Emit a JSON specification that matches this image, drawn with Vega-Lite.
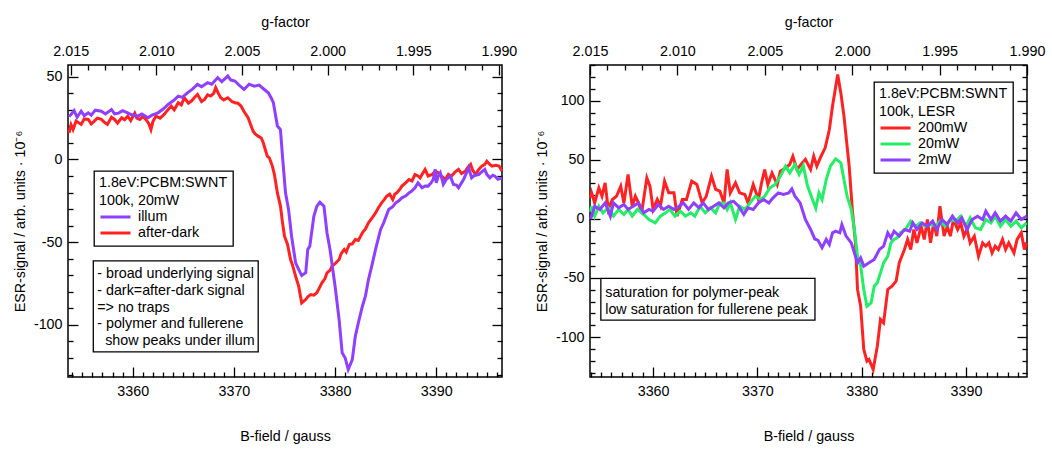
{
  "$schema": "https://vega.github.io/schema/vega-lite/v6.json",
  "padding": {"left": 12, "top": 14, "right": 0, "bottom": 0},
  "spacing": 16,
  "resolve": {"scale": {"color": "independent"}, "legend": {"color": "independent"}},
  "config": {
    "font": "Liberation Sans",
    "view": {"stroke": "black", "strokeWidth": 1.5},
    "axis": {"grid": false, "domain": false, "tickColor": "black", "tickWidth": 1.3, "labelColor": "black", "titleColor": "black", "labelFontSize": 14.3, "titleFontSize": 14.3, "titleFontWeight": "normal", "labelFont": "Liberation Sans", "titleFont": "Liberation Sans", "labelFlush": false, "labelOverlap": false, "labelBound": false},
    "legend": {"titleFontSize": 14.3, "titleFontWeight": "normal", "titleFont": "Liberation Sans", "labelFont": "Liberation Sans", "titleLineHeight": 18, "titlePadding": 1, "titleLimit": 400, "labelFontSize": 14.3, "symbolType": "stroke", "symbolSize": 900, "symbolStrokeWidth": 3, "clipHeight": 15.5, "rowPadding": 0, "labelOffset": 6, "padding": 5, "strokeColor": "black", "fillColor": "white", "strokeWidth": 1.3, "titleColor": "black", "labelColor": "black", "symbolOffset": 0, "offset": 0}
  },
  "datasets": {
    "L": [
      {"B":3353.7,"v":16,"s":"after-dark"},{"B":3353.9,"v":21,"s":"after-dark"},{"B":3354.1,"v":18.1,"s":"after-dark"},{"B":3354.4,"v":23.2,"s":"after-dark"},{"B":3354.9,"v":21.2,"s":"after-dark"},{"B":3355.2,"v":24.5,"s":"after-dark"},{"B":3355.6,"v":24.2,"s":"after-dark"},{"B":3355.9,"v":21.5,"s":"after-dark"},{"B":3356.2,"v":23.2,"s":"after-dark"},{"B":3356.5,"v":25,"s":"after-dark"},{"B":3356.9,"v":24.2,"s":"after-dark"},{"B":3357.2,"v":22.5,"s":"after-dark"},{"B":3357.5,"v":21.2,"s":"after-dark"},{"B":3357.9,"v":25.5,"s":"after-dark"},{"B":3358.2,"v":24.2,"s":"after-dark"},{"B":3358.5,"v":22,"s":"after-dark"},{"B":3358.9,"v":25.2,"s":"after-dark"},{"B":3359.2,"v":24,"s":"after-dark"},{"B":3359.5,"v":26.2,"s":"after-dark"},{"B":3359.8,"v":23.5,"s":"after-dark"},{"B":3360.2,"v":28,"s":"after-dark"},{"B":3360.4,"v":25,"s":"after-dark"},{"B":3360.7,"v":24.2,"s":"after-dark"},{"B":3361.0,"v":26,"s":"after-dark"},{"B":3361.3,"v":24.2,"s":"after-dark"},{"B":3361.6,"v":21.5,"s":"after-dark"},{"B":3361.8,"v":18.1,"s":"after-dark"},{"B":3362.0,"v":23,"s":"after-dark"},{"B":3362.3,"v":26.2,"s":"after-dark"},{"B":3362.7,"v":25,"s":"after-dark"},{"B":3363.1,"v":27.2,"s":"after-dark"},{"B":3363.4,"v":29.5,"s":"after-dark"},{"B":3363.8,"v":32.3,"s":"after-dark"},{"B":3364.1,"v":30,"s":"after-dark"},{"B":3364.5,"v":34.3,"s":"after-dark"},{"B":3364.8,"v":33,"s":"after-dark"},{"B":3365.1,"v":37.3,"s":"after-dark"},{"B":3365.5,"v":34,"s":"after-dark"},{"B":3365.8,"v":35.3,"s":"after-dark"},{"B":3366.1,"v":37.5,"s":"after-dark"},{"B":3366.4,"v":39.3,"s":"after-dark"},{"B":3366.8,"v":35,"s":"after-dark"},{"B":3367.1,"v":36.3,"s":"after-dark"},{"B":3367.4,"v":39,"s":"after-dark"},{"B":3367.7,"v":38.3,"s":"after-dark"},{"B":3368.0,"v":40,"s":"after-dark"},{"B":3368.2,"v":43.4,"s":"after-dark"},{"B":3368.5,"v":39.5,"s":"after-dark"},{"B":3368.7,"v":37.3,"s":"after-dark"},{"B":3369.0,"v":36,"s":"after-dark"},{"B":3369.4,"v":37.3,"s":"after-dark"},{"B":3369.8,"v":35,"s":"after-dark"},{"B":3370.1,"v":34.3,"s":"after-dark"},{"B":3370.4,"v":34,"s":"after-dark"},{"B":3370.7,"v":32.3,"s":"after-dark"},{"B":3371.0,"v":29,"s":"after-dark"},{"B":3371.4,"v":25.2,"s":"after-dark"},{"B":3371.9,"v":17.1,"s":"after-dark"},{"B":3372.1,"v":15.5,"s":"after-dark"},{"B":3372.4,"v":14.1,"s":"after-dark"},{"B":3372.7,"v":13,"s":"after-dark"},{"B":3372.9,"v":10.1,"s":"after-dark"},{"B":3373.1,"v":6,"s":"after-dark"},{"B":3373.3,"v":2,"s":"after-dark"},{"B":3373.5,"v":1,"s":"after-dark"},{"B":3373.8,"v":-4,"s":"after-dark"},{"B":3374.0,"v":-9,"s":"after-dark"},{"B":3374.3,"v":-20.2,"s":"after-dark"},{"B":3374.6,"v":-28.2,"s":"after-dark"},{"B":3374.8,"v":-38,"s":"after-dark"},{"B":3375.0,"v":-46.4,"s":"after-dark"},{"B":3375.3,"v":-51.4,"s":"after-dark"},{"B":3375.6,"v":-60.5,"s":"after-dark"},{"B":3375.8,"v":-64,"s":"after-dark"},{"B":3376.1,"v":-70.6,"s":"after-dark"},{"B":3376.4,"v":-76.6,"s":"after-dark"},{"B":3376.7,"v":-86.7,"s":"after-dark"},{"B":3377.1,"v":-84.7,"s":"after-dark"},{"B":3377.3,"v":-83,"s":"after-dark"},{"B":3377.6,"v":-81.7,"s":"after-dark"},{"B":3377.9,"v":-82,"s":"after-dark"},{"B":3378.2,"v":-80.6,"s":"after-dark"},{"B":3378.5,"v":-77,"s":"after-dark"},{"B":3378.7,"v":-74.6,"s":"after-dark"},{"B":3379.0,"v":-72,"s":"after-dark"},{"B":3379.2,"v":-68.5,"s":"after-dark"},{"B":3379.5,"v":-67,"s":"after-dark"},{"B":3379.7,"v":-64.5,"s":"after-dark"},{"B":3380.0,"v":-63,"s":"after-dark"},{"B":3380.4,"v":-60.5,"s":"after-dark"},{"B":3380.6,"v":-57,"s":"after-dark"},{"B":3380.9,"v":-54.4,"s":"after-dark"},{"B":3381.1,"v":-56,"s":"after-dark"},{"B":3381.4,"v":-51.4,"s":"after-dark"},{"B":3381.7,"v":-51,"s":"after-dark"},{"B":3382.0,"v":-48.4,"s":"after-dark"},{"B":3382.3,"v":-49,"s":"after-dark"},{"B":3382.7,"v":-44.3,"s":"after-dark"},{"B":3383.0,"v":-42,"s":"after-dark"},{"B":3383.3,"v":-38.3,"s":"after-dark"},{"B":3383.7,"v":-35,"s":"after-dark"},{"B":3384.0,"v":-32.3,"s":"after-dark"},{"B":3384.3,"v":-29,"s":"after-dark"},{"B":3384.6,"v":-26.2,"s":"after-dark"},{"B":3384.9,"v":-24,"s":"after-dark"},{"B":3385.1,"v":-22.2,"s":"after-dark"},{"B":3385.4,"v":-21,"s":"after-dark"},{"B":3385.7,"v":-24.2,"s":"after-dark"},{"B":3385.9,"v":-21,"s":"after-dark"},{"B":3386.1,"v":-20.2,"s":"after-dark"},{"B":3386.4,"v":-18,"s":"after-dark"},{"B":3386.6,"v":-16.1,"s":"after-dark"},{"B":3387.0,"v":-14,"s":"after-dark"},{"B":3387.3,"v":-12.1,"s":"after-dark"},{"B":3387.6,"v":-13,"s":"after-dark"},{"B":3387.9,"v":-9.1,"s":"after-dark"},{"B":3388.2,"v":-10,"s":"after-dark"},{"B":3388.4,"v":-11.1,"s":"after-dark"},{"B":3388.7,"v":-8,"s":"after-dark"},{"B":3388.9,"v":-6,"s":"after-dark"},{"B":3389.2,"v":-10,"s":"after-dark"},{"B":3389.6,"v":-9.1,"s":"after-dark"},{"B":3389.9,"v":-7,"s":"after-dark"},{"B":3390.2,"v":-8,"s":"after-dark"},{"B":3390.5,"v":-10,"s":"after-dark"},{"B":3390.9,"v":-12.1,"s":"after-dark"},{"B":3391.2,"v":-9,"s":"after-dark"},{"B":3391.5,"v":-10.1,"s":"after-dark"},{"B":3391.8,"v":-8,"s":"after-dark"},{"B":3392.2,"v":-6,"s":"after-dark"},{"B":3392.5,"v":-8.5,"s":"after-dark"},{"B":3392.9,"v":-7,"s":"after-dark"},{"B":3393.1,"v":-5,"s":"after-dark"},{"B":3393.4,"v":-3,"s":"after-dark"},{"B":3393.6,"v":-6.5,"s":"after-dark"},{"B":3393.9,"v":-9.1,"s":"after-dark"},{"B":3394.2,"v":-6,"s":"after-dark"},{"B":3394.5,"v":-4,"s":"after-dark"},{"B":3394.8,"v":-3,"s":"after-dark"},{"B":3395.0,"v":-1,"s":"after-dark"},{"B":3395.3,"v":-3,"s":"after-dark"},{"B":3395.5,"v":-4,"s":"after-dark"},{"B":3395.9,"v":-3.5,"s":"after-dark"},{"B":3396.2,"v":-4,"s":"after-dark"},{"B":3396.5,"v":-7,"s":"after-dark"},
      {"B":3353.7,"v":26,"s":"illum"},{"B":3353.9,"v":27.2,"s":"illum"},{"B":3354.2,"v":29.5,"s":"illum"},{"B":3354.5,"v":25.5,"s":"illum"},{"B":3354.9,"v":29.2,"s":"illum"},{"B":3355.2,"v":26.5,"s":"illum"},{"B":3355.6,"v":28.2,"s":"illum"},{"B":3355.9,"v":26.8,"s":"illum"},{"B":3356.3,"v":29.8,"s":"illum"},{"B":3356.9,"v":29.2,"s":"illum"},{"B":3357.3,"v":27.5,"s":"illum"},{"B":3357.9,"v":30.2,"s":"illum"},{"B":3358.2,"v":27.6,"s":"illum"},{"B":3358.6,"v":28,"s":"illum"},{"B":3359.0,"v":29.5,"s":"illum"},{"B":3359.5,"v":28.2,"s":"illum"},{"B":3359.9,"v":27,"s":"illum"},{"B":3360.5,"v":26.2,"s":"illum"},{"B":3360.9,"v":27.5,"s":"illum"},{"B":3361.5,"v":25.2,"s":"illum"},{"B":3361.9,"v":26.8,"s":"illum"},{"B":3362.5,"v":28.2,"s":"illum"},{"B":3363.0,"v":30.5,"s":"illum"},{"B":3363.5,"v":33.3,"s":"illum"},{"B":3364.0,"v":35.5,"s":"illum"},{"B":3364.5,"v":38.3,"s":"illum"},{"B":3364.9,"v":37.5,"s":"illum"},{"B":3365.4,"v":40.3,"s":"illum"},{"B":3365.9,"v":42.5,"s":"illum"},{"B":3366.4,"v":45.4,"s":"illum"},{"B":3366.8,"v":44,"s":"illum"},{"B":3367.4,"v":46.4,"s":"illum"},{"B":3367.8,"v":45.5,"s":"illum"},{"B":3368.4,"v":49.4,"s":"illum"},{"B":3368.8,"v":47,"s":"illum"},{"B":3369.4,"v":50.4,"s":"illum"},{"B":3369.7,"v":48,"s":"illum"},{"B":3370.1,"v":47.4,"s":"illum"},{"B":3370.5,"v":45,"s":"illum"},{"B":3371.0,"v":42.3,"s":"illum"},{"B":3371.5,"v":45.5,"s":"illum"},{"B":3372.0,"v":44.3,"s":"illum"},{"B":3372.5,"v":45,"s":"illum"},{"B":3373.0,"v":42.3,"s":"illum"},{"B":3373.4,"v":40.3,"s":"illum"},{"B":3373.7,"v":37,"s":"illum"},{"B":3373.9,"v":34.3,"s":"illum"},{"B":3374.3,"v":20.2,"s":"illum"},{"B":3374.6,"v":18.1,"s":"illum"},{"B":3374.8,"v":2,"s":"illum"},{"B":3375.1,"v":-20.2,"s":"illum"},{"B":3375.4,"v":-30.2,"s":"illum"},{"B":3375.7,"v":-46.4,"s":"illum"},{"B":3376.1,"v":-62.5,"s":"illum"},{"B":3376.4,"v":-66.5,"s":"illum"},{"B":3376.7,"v":-70.2,"s":"illum"},{"B":3377.1,"v":-68.5,"s":"illum"},{"B":3377.3,"v":-54.4,"s":"illum"},{"B":3377.5,"v":-52.4,"s":"illum"},{"B":3377.9,"v":-34.3,"s":"illum"},{"B":3378.2,"v":-28.2,"s":"illum"},{"B":3378.5,"v":-25.8,"s":"illum"},{"B":3378.9,"v":-28.2,"s":"illum"},{"B":3379.2,"v":-44.3,"s":"illum"},{"B":3379.5,"v":-54.4,"s":"illum"},{"B":3380.0,"v":-76.6,"s":"illum"},{"B":3380.4,"v":-96.8,"s":"illum"},{"B":3380.7,"v":-116.9,"s":"illum"},{"B":3381.0,"v":-120,"s":"illum"},{"B":3381.3,"v":-127,"s":"illum"},{"B":3381.7,"v":-121,"s":"illum"},{"B":3382.0,"v":-106.9,"s":"illum"},{"B":3382.3,"v":-98.8,"s":"illum"},{"B":3382.7,"v":-88.7,"s":"illum"},{"B":3383.0,"v":-82.7,"s":"illum"},{"B":3383.3,"v":-72.6,"s":"illum"},{"B":3383.7,"v":-62.5,"s":"illum"},{"B":3384.0,"v":-54.4,"s":"illum"},{"B":3384.5,"v":-42.3,"s":"illum"},{"B":3384.8,"v":-38.3,"s":"illum"},{"B":3385.3,"v":-30.2,"s":"illum"},{"B":3385.7,"v":-28.5,"s":"illum"},{"B":3386.0,"v":-26.2,"s":"illum"},{"B":3386.3,"v":-25,"s":"illum"},{"B":3386.6,"v":-23.2,"s":"illum"},{"B":3387.0,"v":-22,"s":"illum"},{"B":3387.3,"v":-20.2,"s":"illum"},{"B":3387.6,"v":-19,"s":"illum"},{"B":3387.9,"v":-17.1,"s":"illum"},{"B":3388.2,"v":-14.1,"s":"illum"},{"B":3388.6,"v":-17.1,"s":"illum"},{"B":3388.9,"v":-16,"s":"illum"},{"B":3389.2,"v":-16.1,"s":"illum"},{"B":3389.5,"v":-14,"s":"illum"},{"B":3389.7,"v":-12.1,"s":"illum"},{"B":3389.9,"v":-6,"s":"illum"},{"B":3390.0,"v":-14.1,"s":"illum"},{"B":3390.2,"v":-10,"s":"illum"},{"B":3390.4,"v":-8,"s":"illum"},{"B":3390.7,"v":-15.1,"s":"illum"},{"B":3391.0,"v":-12,"s":"illum"},{"B":3391.4,"v":-10.1,"s":"illum"},{"B":3391.7,"v":-15.1,"s":"illum"},{"B":3392.0,"v":-15.5,"s":"illum"},{"B":3392.2,"v":-17.1,"s":"illum"},{"B":3392.7,"v":-12.1,"s":"illum"},{"B":3393.0,"v":-8,"s":"illum"},{"B":3393.2,"v":-5,"s":"illum"},{"B":3393.5,"v":-11.1,"s":"illum"},{"B":3393.8,"v":-9.5,"s":"illum"},{"B":3394.2,"v":-9.1,"s":"illum"},{"B":3394.5,"v":-7.5,"s":"illum"},{"B":3394.8,"v":-6,"s":"illum"},{"B":3395.0,"v":-9,"s":"illum"},{"B":3395.3,"v":-11.1,"s":"illum"},{"B":3395.6,"v":-9.5,"s":"illum"},{"B":3395.8,"v":-10.1,"s":"illum"},{"B":3396.1,"v":-12,"s":"illum"},{"B":3396.5,"v":-11.1,"s":"illum"}
    ],
    "R": [
      {"B":3354.0,"v":18,"s":"200mW"},{"B":3354.1,"v":22,"s":"200mW"},{"B":3354.4,"v":13.5,"s":"200mW"},{"B":3354.8,"v":26.2,"s":"200mW"},{"B":3355.1,"v":19.2,"s":"200mW"},{"B":3355.4,"v":30.5,"s":"200mW"},{"B":3355.7,"v":8,"s":"200mW"},{"B":3356.1,"v":16.4,"s":"200mW"},{"B":3356.5,"v":19.2,"s":"200mW"},{"B":3356.9,"v":27.7,"s":"200mW"},{"B":3357.2,"v":13.5,"s":"200mW"},{"B":3357.6,"v":37.6,"s":"200mW"},{"B":3358.0,"v":10.7,"s":"200mW"},{"B":3358.3,"v":19.2,"s":"200mW"},{"B":3358.6,"v":13.5,"s":"200mW"},{"B":3358.9,"v":5.1,"s":"200mW"},{"B":3359.4,"v":34.7,"s":"200mW"},{"B":3359.7,"v":27.7,"s":"200mW"},{"B":3360.0,"v":8,"s":"200mW"},{"B":3360.4,"v":16.4,"s":"200mW"},{"B":3360.7,"v":10.7,"s":"200mW"},{"B":3361.1,"v":31.9,"s":"200mW"},{"B":3361.5,"v":22,"s":"200mW"},{"B":3362.0,"v":22,"s":"200mW"},{"B":3362.3,"v":2.3,"s":"200mW"},{"B":3362.8,"v":16.4,"s":"200mW"},{"B":3363.2,"v":16.4,"s":"200mW"},{"B":3363.7,"v":31.9,"s":"200mW"},{"B":3364.2,"v":29.1,"s":"200mW"},{"B":3364.7,"v":13.5,"s":"200mW"},{"B":3365.1,"v":19.2,"s":"200mW"},{"B":3365.6,"v":36.1,"s":"200mW"},{"B":3366.0,"v":24.9,"s":"200mW"},{"B":3366.4,"v":23.4,"s":"200mW"},{"B":3366.8,"v":13.5,"s":"200mW"},{"B":3367.1,"v":41.8,"s":"200mW"},{"B":3367.4,"v":22,"s":"200mW"},{"B":3367.9,"v":30.5,"s":"200mW"},{"B":3368.3,"v":22,"s":"200mW"},{"B":3368.8,"v":20.6,"s":"200mW"},{"B":3369.1,"v":13.5,"s":"200mW"},{"B":3369.6,"v":29.1,"s":"200mW"},{"B":3370.1,"v":16.4,"s":"200mW"},{"B":3370.4,"v":30.5,"s":"200mW"},{"B":3370.7,"v":41.8,"s":"200mW"},{"B":3371.0,"v":29.1,"s":"200mW"},{"B":3371.4,"v":38.9,"s":"200mW"},{"B":3371.9,"v":29.1,"s":"200mW"},{"B":3372.2,"v":40.4,"s":"200mW"},{"B":3372.7,"v":43.1,"s":"200mW"},{"B":3373.1,"v":46,"s":"200mW"},{"B":3373.4,"v":53,"s":"200mW"},{"B":3373.8,"v":41.8,"s":"200mW"},{"B":3374.3,"v":47.4,"s":"200mW"},{"B":3374.6,"v":50.3,"s":"200mW"},{"B":3375.1,"v":41.8,"s":"200mW"},{"B":3375.4,"v":53,"s":"200mW"},{"B":3375.7,"v":44.6,"s":"200mW"},{"B":3376.1,"v":53,"s":"200mW"},{"B":3376.5,"v":60.1,"s":"200mW"},{"B":3376.9,"v":75.6,"s":"200mW"},{"B":3377.2,"v":95.3,"s":"200mW"},{"B":3377.7,"v":122.2,"s":"200mW"},{"B":3378.0,"v":106.6,"s":"200mW"},{"B":3378.3,"v":86.9,"s":"200mW"},{"B":3378.6,"v":61.5,"s":"200mW"},{"B":3378.8,"v":44.6,"s":"200mW"},{"B":3379.1,"v":8,"s":"200mW"},{"B":3379.4,"v":-20.3,"s":"200mW"},{"B":3379.6,"v":-59.7,"s":"200mW"},{"B":3379.9,"v":-73.9,"s":"200mW"},{"B":3380.2,"v":-110.5,"s":"200mW"},{"B":3380.5,"v":-120.4,"s":"200mW"},{"B":3380.7,"v":-119,"s":"200mW"},{"B":3381.1,"v":-127.4,"s":"200mW"},{"B":3381.5,"v":-107.7,"s":"200mW"},{"B":3381.8,"v":-85.1,"s":"200mW"},{"B":3382.1,"v":-88,"s":"200mW"},{"B":3382.5,"v":-59.7,"s":"200mW"},{"B":3382.9,"v":-56.9,"s":"200mW"},{"B":3383.3,"v":-52.7,"s":"200mW"},{"B":3383.6,"v":-37.2,"s":"200mW"},{"B":3384.1,"v":-25.9,"s":"200mW"},{"B":3384.4,"v":-17.4,"s":"200mW"},{"B":3384.7,"v":-25.9,"s":"200mW"},{"B":3385.0,"v":-9,"s":"200mW"},{"B":3385.3,"v":-20.3,"s":"200mW"},{"B":3385.7,"v":-6.2,"s":"200mW"},{"B":3386.0,"v":-17.4,"s":"200mW"},{"B":3386.3,"v":-0.5,"s":"200mW"},{"B":3386.6,"v":-20.3,"s":"200mW"},{"B":3386.9,"v":-3.4,"s":"200mW"},{"B":3387.2,"v":-14.6,"s":"200mW"},{"B":3387.5,"v":10.7,"s":"200mW"},{"B":3387.9,"v":-14.6,"s":"200mW"},{"B":3388.2,"v":-6.2,"s":"200mW"},{"B":3388.5,"v":-14.6,"s":"200mW"},{"B":3388.8,"v":-0.5,"s":"200mW"},{"B":3389.2,"v":-9,"s":"200mW"},{"B":3389.5,"v":-3.4,"s":"200mW"},{"B":3389.8,"v":-14.6,"s":"200mW"},{"B":3390.1,"v":-9,"s":"200mW"},{"B":3390.4,"v":-20.3,"s":"200mW"},{"B":3390.8,"v":-14.6,"s":"200mW"},{"B":3391.2,"v":-31.6,"s":"200mW"},{"B":3391.6,"v":-20.3,"s":"200mW"},{"B":3391.9,"v":-23.1,"s":"200mW"},{"B":3392.2,"v":-20.3,"s":"200mW"},{"B":3392.5,"v":-28.8,"s":"200mW"},{"B":3392.8,"v":-23.1,"s":"200mW"},{"B":3393.1,"v":-25.9,"s":"200mW"},{"B":3393.5,"v":-17.4,"s":"200mW"},{"B":3393.8,"v":-25.9,"s":"200mW"},{"B":3394.1,"v":-20.3,"s":"200mW"},{"B":3394.6,"v":-28.8,"s":"200mW"},{"B":3394.9,"v":-17.4,"s":"200mW"},{"B":3395.3,"v":-11.8,"s":"200mW"},{"B":3395.6,"v":-25.9,"s":"200mW"},{"B":3395.8,"v":-20,"s":"200mW"},
      {"B":3354.0,"v":6,"s":"20mW"},{"B":3354.1,"v":10.7,"s":"20mW"},{"B":3354.4,"v":2.3,"s":"20mW"},{"B":3354.8,"v":10.7,"s":"20mW"},{"B":3355.2,"v":5.1,"s":"20mW"},{"B":3355.7,"v":9.3,"s":"20mW"},{"B":3356.2,"v":2.3,"s":"20mW"},{"B":3356.7,"v":8,"s":"20mW"},{"B":3357.2,"v":3.7,"s":"20mW"},{"B":3357.6,"v":8,"s":"20mW"},{"B":3358.0,"v":2.3,"s":"20mW"},{"B":3358.5,"v":8,"s":"20mW"},{"B":3359.1,"v":3.7,"s":"20mW"},{"B":3359.6,"v":-0.5,"s":"20mW"},{"B":3360.2,"v":-3.4,"s":"20mW"},{"B":3360.7,"v":2.3,"s":"20mW"},{"B":3361.2,"v":5.1,"s":"20mW"},{"B":3361.6,"v":8,"s":"20mW"},{"B":3362.1,"v":2.3,"s":"20mW"},{"B":3362.6,"v":6.5,"s":"20mW"},{"B":3363.1,"v":2.3,"s":"20mW"},{"B":3363.6,"v":5.1,"s":"20mW"},{"B":3364.0,"v":2.3,"s":"20mW"},{"B":3364.5,"v":10.7,"s":"20mW"},{"B":3365.0,"v":5.1,"s":"20mW"},{"B":3365.5,"v":9.3,"s":"20mW"},{"B":3366.0,"v":5.1,"s":"20mW"},{"B":3366.4,"v":13.5,"s":"20mW"},{"B":3366.8,"v":13.5,"s":"20mW"},{"B":3367.1,"v":8,"s":"20mW"},{"B":3367.4,"v":13.5,"s":"20mW"},{"B":3367.9,"v":-0.5,"s":"20mW"},{"B":3368.3,"v":10.7,"s":"20mW"},{"B":3368.8,"v":8,"s":"20mW"},{"B":3369.3,"v":13.5,"s":"20mW"},{"B":3369.8,"v":19.2,"s":"20mW"},{"B":3370.3,"v":16.4,"s":"20mW"},{"B":3370.7,"v":19.2,"s":"20mW"},{"B":3371.2,"v":26.2,"s":"20mW"},{"B":3371.7,"v":29.1,"s":"20mW"},{"B":3372.2,"v":36.1,"s":"20mW"},{"B":3372.7,"v":44.6,"s":"20mW"},{"B":3373.1,"v":38.9,"s":"20mW"},{"B":3373.6,"v":46,"s":"20mW"},{"B":3374.0,"v":37.6,"s":"20mW"},{"B":3374.4,"v":45,"s":"20mW"},{"B":3374.8,"v":28,"s":"20mW"},{"B":3375.3,"v":16,"s":"20mW"},{"B":3375.6,"v":9,"s":"20mW"},{"B":3375.9,"v":22,"s":"20mW"},{"B":3376.2,"v":16.4,"s":"20mW"},{"B":3376.6,"v":33.3,"s":"20mW"},{"B":3377.0,"v":44.6,"s":"20mW"},{"B":3377.5,"v":50.8,"s":"20mW"},{"B":3378.0,"v":47.4,"s":"20mW"},{"B":3378.3,"v":33.3,"s":"20mW"},{"B":3378.6,"v":19.2,"s":"20mW"},{"B":3379.0,"v":8,"s":"20mW"},{"B":3379.3,"v":-9,"s":"20mW"},{"B":3379.6,"v":-31.6,"s":"20mW"},{"B":3379.9,"v":-40,"s":"20mW"},{"B":3380.2,"v":-59.7,"s":"20mW"},{"B":3380.5,"v":-73.9,"s":"20mW"},{"B":3380.9,"v":-71.1,"s":"20mW"},{"B":3381.2,"v":-56.9,"s":"20mW"},{"B":3381.5,"v":-54.1,"s":"20mW"},{"B":3381.8,"v":-45.7,"s":"20mW"},{"B":3382.1,"v":-37.2,"s":"20mW"},{"B":3382.5,"v":-31.6,"s":"20mW"},{"B":3382.8,"v":-20.3,"s":"20mW"},{"B":3383.1,"v":-17.4,"s":"20mW"},{"B":3383.4,"v":-16,"s":"20mW"},{"B":3383.7,"v":-11.8,"s":"20mW"},{"B":3384.2,"v":-9,"s":"20mW"},{"B":3384.7,"v":-1.9,"s":"20mW"},{"B":3385.2,"v":-6.2,"s":"20mW"},{"B":3385.6,"v":-3.4,"s":"20mW"},{"B":3386.1,"v":-6.2,"s":"20mW"},{"B":3386.6,"v":-4.8,"s":"20mW"},{"B":3387.1,"v":-6.2,"s":"20mW"},{"B":3387.5,"v":-1.9,"s":"20mW"},{"B":3388.0,"v":-6.2,"s":"20mW"},{"B":3388.5,"v":-0.5,"s":"20mW"},{"B":3389.0,"v":-1.9,"s":"20mW"},{"B":3389.5,"v":2.3,"s":"20mW"},{"B":3390.0,"v":-6.2,"s":"20mW"},{"B":3390.4,"v":0.9,"s":"20mW"},{"B":3390.9,"v":-7.6,"s":"20mW"},{"B":3391.4,"v":-9,"s":"20mW"},{"B":3391.9,"v":-0.5,"s":"20mW"},{"B":3392.4,"v":-3.4,"s":"20mW"},{"B":3392.8,"v":2.3,"s":"20mW"},{"B":3393.3,"v":-6.2,"s":"20mW"},{"B":3393.8,"v":-0.5,"s":"20mW"},{"B":3394.3,"v":-6.2,"s":"20mW"},{"B":3394.8,"v":-1.9,"s":"20mW"},{"B":3395.3,"v":-7.6,"s":"20mW"},{"B":3395.8,"v":-3.4,"s":"20mW"},
      {"B":3354.0,"v":0,"s":"2mW"},{"B":3354.1,"v":2.3,"s":"2mW"},{"B":3354.4,"v":10.7,"s":"2mW"},{"B":3354.9,"v":8,"s":"2mW"},{"B":3355.4,"v":13.5,"s":"2mW"},{"B":3355.9,"v":2.3,"s":"2mW"},{"B":3356.2,"v":13.5,"s":"2mW"},{"B":3356.7,"v":9.3,"s":"2mW"},{"B":3357.2,"v":12.1,"s":"2mW"},{"B":3357.6,"v":8,"s":"2mW"},{"B":3358.1,"v":10.7,"s":"2mW"},{"B":3358.6,"v":13.5,"s":"2mW"},{"B":3359.1,"v":5.1,"s":"2mW"},{"B":3359.6,"v":8,"s":"2mW"},{"B":3360.0,"v":6.5,"s":"2mW"},{"B":3360.5,"v":12.1,"s":"2mW"},{"B":3361.0,"v":8,"s":"2mW"},{"B":3361.5,"v":10.7,"s":"2mW"},{"B":3362.0,"v":8,"s":"2mW"},{"B":3362.5,"v":10.7,"s":"2mW"},{"B":3362.9,"v":13.5,"s":"2mW"},{"B":3363.4,"v":8,"s":"2mW"},{"B":3363.9,"v":13.5,"s":"2mW"},{"B":3364.4,"v":9.3,"s":"2mW"},{"B":3364.8,"v":13.5,"s":"2mW"},{"B":3365.3,"v":8,"s":"2mW"},{"B":3365.8,"v":10.7,"s":"2mW"},{"B":3366.3,"v":13.5,"s":"2mW"},{"B":3366.8,"v":9.3,"s":"2mW"},{"B":3367.2,"v":13.5,"s":"2mW"},{"B":3367.7,"v":15,"s":"2mW"},{"B":3368.2,"v":10.7,"s":"2mW"},{"B":3368.7,"v":3.7,"s":"2mW"},{"B":3369.1,"v":9.3,"s":"2mW"},{"B":3369.6,"v":8,"s":"2mW"},{"B":3370.1,"v":13.5,"s":"2mW"},{"B":3370.6,"v":16.4,"s":"2mW"},{"B":3371.1,"v":13.5,"s":"2mW"},{"B":3371.5,"v":17.8,"s":"2mW"},{"B":3372.0,"v":22,"s":"2mW"},{"B":3372.5,"v":20.6,"s":"2mW"},{"B":3373.0,"v":22,"s":"2mW"},{"B":3373.3,"v":25.4,"s":"2mW"},{"B":3373.6,"v":19.2,"s":"2mW"},{"B":3374.1,"v":13.5,"s":"2mW"},{"B":3374.3,"v":8,"s":"2mW"},{"B":3374.6,"v":-0.5,"s":"2mW"},{"B":3375.1,"v":-9,"s":"2mW"},{"B":3375.5,"v":-17,"s":"2mW"},{"B":3375.8,"v":-18,"s":"2mW"},{"B":3376.2,"v":-24.5,"s":"2mW"},{"B":3376.6,"v":-17.4,"s":"2mW"},{"B":3376.9,"v":-21.7,"s":"2mW"},{"B":3377.2,"v":-11.8,"s":"2mW"},{"B":3377.5,"v":-10.4,"s":"2mW"},{"B":3377.9,"v":-11.8,"s":"2mW"},{"B":3378.1,"v":-4.8,"s":"2mW"},{"B":3378.5,"v":-14.6,"s":"2mW"},{"B":3379.0,"v":-20.3,"s":"2mW"},{"B":3379.3,"v":-28.8,"s":"2mW"},{"B":3379.6,"v":-37.2,"s":"2mW"},{"B":3379.9,"v":-33,"s":"2mW"},{"B":3380.2,"v":-40,"s":"2mW"},{"B":3380.7,"v":-37.2,"s":"2mW"},{"B":3381.2,"v":-34.3,"s":"2mW"},{"B":3381.7,"v":-25.9,"s":"2mW"},{"B":3382.1,"v":-23.1,"s":"2mW"},{"B":3382.5,"v":-11.8,"s":"2mW"},{"B":3382.8,"v":-16,"s":"2mW"},{"B":3383.1,"v":-10.4,"s":"2mW"},{"B":3383.6,"v":-14.6,"s":"2mW"},{"B":3384.1,"v":-9,"s":"2mW"},{"B":3384.6,"v":-10.4,"s":"2mW"},{"B":3384.9,"v":-3.4,"s":"2mW"},{"B":3385.3,"v":-9,"s":"2mW"},{"B":3385.8,"v":-3.4,"s":"2mW"},{"B":3386.3,"v":-6.2,"s":"2mW"},{"B":3386.8,"v":-1.9,"s":"2mW"},{"B":3387.2,"v":-9,"s":"2mW"},{"B":3387.7,"v":-0.5,"s":"2mW"},{"B":3388.2,"v":-4.8,"s":"2mW"},{"B":3388.7,"v":2.3,"s":"2mW"},{"B":3389.2,"v":-3.4,"s":"2mW"},{"B":3389.6,"v":0.9,"s":"2mW"},{"B":3390.1,"v":-9,"s":"2mW"},{"B":3390.6,"v":-0.5,"s":"2mW"},{"B":3391.1,"v":2.3,"s":"2mW"},{"B":3391.6,"v":-0.5,"s":"2mW"},{"B":3391.9,"v":6.5,"s":"2mW"},{"B":3392.4,"v":-0.5,"s":"2mW"},{"B":3392.8,"v":5.1,"s":"2mW"},{"B":3393.3,"v":-1.9,"s":"2mW"},{"B":3393.8,"v":2.3,"s":"2mW"},{"B":3394.3,"v":-1.9,"s":"2mW"},{"B":3394.8,"v":5.1,"s":"2mW"},{"B":3395.3,"v":-0.5,"s":"2mW"},{"B":3395.8,"v":2.3,"s":"2mW"}
    ],
    "noteL": [{"t": ["- broad underlying signal", "- dark=after-dark signal", "=> no traps", "- polymer and fullerene", "\u200b\u00a0\u00a0show peaks under illum"]}],
    "noteR": [{"t": ["saturation for polymer-peak", "low saturation for fullerene peak"]}],
    "one": [{"k": 1}]
  },
  "hconcat": [
    {
      "width": 434,
      "height": 312,
      "resolve": {"scale": {"x": "independent"}, "axis": {"x": "independent", "y": "independent"}},
      "layer": [
        {
          "data": {"name": "L"},
          "mark": {"type": "line", "strokeWidth": 3},
          "encoding": {
            "x": {"field": "B", "type": "quantitative", "scale": {"domain": [3353.6, 3396.5], "nice": false, "zero": false},
                  "axis": {"orient": "bottom", "values": [3360, 3370, 3380, 3390], "labelExpr": "'' + datum.value", "tickSize": -10, "labelPadding": 17, "title": "B-field / gauss", "titlePadding": 31}},
            "y": {"field": "v", "type": "quantitative", "scale": {"domain": [-131.5, 57.1], "nice": false, "zero": false},
                  "axis": {"orient": "left", "values": [-100, -50, 0, 50], "labelExpr": "'' + datum.value", "tickSize": -10, "labelPadding": 16, "title": "ESR-signal / arb. units · 10⁻⁶", "titlePadding": 6}},
            "color": {"field": "s", "type": "nominal", "scale": {"domain": ["illum", "after-dark"], "range": ["#8f3fff", "#ff2222"]},
                      "legend": {"orient": "none", "legendX": 26, "legendY": 106, "title": ["1.8eV:PCBM:SWNT", "100k, 20mW"]}}
          }
        },
        {
          "data": {"name": "one"},
          "mark": {"type": "point", "opacity": 0},
          "encoding": {
            "x": {"datum": 3370, "type": "quantitative", "scale": {"domain": [3353.6, 3396.5], "nice": false, "zero": false},
                  "axis": {"orient": "bottom", "values": [3354,3355,3356,3357,3358,3359,3361,3362,3363,3364,3365,3366,3367,3368,3369,3371,3372,3373,3374,3375,3376,3377,3378,3379,3381,3382,3383,3384,3385,3386,3387,3388,3389,3391,3392,3393,3394,3395,3396], "tickSize": -5, "labels": false, "title": null}},
            "y": {"datum": 0, "type": "quantitative", "scale": {"domain": [-131.5, 57.1], "nice": false, "zero": false},
                  "axis": {"orient": "left", "values": [-130,-120,-110,-90,-80,-70,-60,-40,-30,-20,-10,10,20,30,40], "tickSize": -5, "labels": false, "title": null}}
          }
        },
        {
          "data": {"name": "one"},
          "mark": {"type": "point", "opacity": 0},
          "encoding": {
            "x": {"datum": 2.0, "type": "quantitative", "scale": {"domain": [1.98982, 2.01516], "reverse": true, "nice": false, "zero": false},
                  "axis": {"orient": "top", "values": [2.015, 2.01, 2.005, 2.0, 1.995, 1.99], "labelExpr": "format(datum.value, '.3f')", "tickSize": -10, "labelPadding": 17, "title": "g-factor", "titlePadding": 15}},
            "y": {"datum": 0, "type": "quantitative", "scale": {"domain": [-131.5, 57.1], "nice": false, "zero": false},
                  "axis": {"orient": "right", "values": [-100, -50, 0, 50], "tickSize": -10, "labels": false, "title": null}}
          }
        },
        {
          "data": {"name": "one"},
          "mark": {"type": "point", "opacity": 0},
          "encoding": {
            "x": {"datum": 2.0, "type": "quantitative", "scale": {"domain": [1.98982, 2.01516], "reverse": true, "nice": false, "zero": false},
                  "axis": {"orient": "top", "values": [2.014, 2.013, 2.012, 2.011, 2.009, 2.008, 2.007, 2.006, 2.004, 2.003, 2.002, 2.001, 1.999, 1.998, 1.997, 1.996, 1.994, 1.993, 1.992, 1.991], "tickSize": -5, "labels": false, "title": null}},
            "y": {"datum": 0, "type": "quantitative", "scale": {"domain": [-131.5, 57.1], "nice": false, "zero": false},
                  "axis": {"orient": "right", "values": [-130,-120,-110,-90,-80,-70,-60,-40,-30,-20,-10,10,20,30,40], "tickSize": -5, "labels": false, "title": null}}
          }
        },
        {
          "data": {"name": "one"},
          "mark": {"type": "rect", "fill": "white", "stroke": "black", "strokeWidth": 1.3},
          "encoding": {
            "x": {"datum": 3356.1, "type": "quantitative", "scale": {"domain": [3353.6, 3396.5], "nice": false, "zero": false}, "axis": null},
            "x2": {"datum": 3372.4},
            "y": {"datum": -61.3, "type": "quantitative", "scale": {"domain": [-131.5, 57.1], "nice": false, "zero": false}, "axis": null},
            "y2": {"datum": -116.3}
          }
        },
        {
          "data": {"name": "noteL"},
          "mark": {"type": "text", "align": "left", "baseline": "top", "fontSize": 14.3, "lineHeight": 16.7, "color": "black", "font": "Liberation Sans"},
          "encoding": {
            "x": {"datum": 3356.49, "type": "quantitative", "scale": {"domain": [3353.6, 3396.5], "nice": false, "zero": false}, "axis": null},
            "y": {"datum": -65.2, "type": "quantitative", "scale": {"domain": [-131.5, 57.1], "nice": false, "zero": false}, "axis": null},
            "text": {"field": "t"}
          }
        }
      ]
    },
    {
      "width": 437,
      "height": 312,
      "resolve": {"scale": {"x": "independent"}, "axis": {"x": "independent", "y": "independent"}},
      "layer": [
        {
          "data": {"name": "R"},
          "mark": {"type": "line", "strokeWidth": 3},
          "encoding": {
            "x": {"field": "B", "type": "quantitative", "scale": {"domain": [3353.95, 3395.85], "nice": false, "zero": false},
                  "axis": {"orient": "bottom", "values": [3360, 3370, 3380, 3390], "labelExpr": "'' + datum.value", "tickSize": -10, "labelPadding": 17, "title": "B-field / gauss", "titlePadding": 31}},
            "y": {"field": "v", "type": "quantitative", "scale": {"domain": [-133.8, 130.2], "nice": false, "zero": false},
                  "axis": {"orient": "left", "values": [-100, -50, 0, 50, 100], "labelExpr": "'' + datum.value", "tickSize": -10, "labelPadding": 16, "title": "ESR-signal / arb. units · 10⁻⁶", "titlePadding": 6}},
            "color": {"field": "s", "type": "nominal", "scale": {"domain": ["200mW", "20mW", "2mW"], "range": ["#ff2222", "#22ee66", "#8f3fff"]},
                      "legend": {"orient": "none", "legendX": 284, "legendY": 17, "title": ["1.8eV:PCBM:SWNT", "100k, LESR"]}}
          }
        },
        {
          "data": {"name": "one"},
          "mark": {"type": "point", "opacity": 0},
          "encoding": {
            "x": {"datum": 3370, "type": "quantitative", "scale": {"domain": [3353.95, 3395.85], "nice": false, "zero": false},
                  "axis": {"orient": "bottom", "values": [3354,3355,3356,3357,3358,3359,3361,3362,3363,3364,3365,3366,3367,3368,3369,3371,3372,3373,3374,3375,3376,3377,3378,3379,3381,3382,3383,3384,3385,3386,3387,3388,3389,3391,3392,3393,3394,3395], "tickSize": -5, "labels": false, "title": null}},
            "y": {"datum": 0, "type": "quantitative", "scale": {"domain": [-133.8, 130.2], "nice": false, "zero": false},
                  "axis": {"orient": "left", "values": [-130,-120,-110,-90,-80,-70,-60,-40,-30,-20,-10,10,20,30,40,60,70,80,90,110,120,130], "tickSize": -5, "labels": false, "title": null}}
          }
        },
        {
          "data": {"name": "one"},
          "mark": {"type": "point", "opacity": 0},
          "encoding": {
            "x": {"datum": 2.0, "type": "quantitative", "scale": {"domain": [1.99, 2.015], "reverse": true, "nice": false, "zero": false},
                  "axis": {"orient": "top", "values": [2.015, 2.01, 2.005, 2.0, 1.995, 1.99], "labelExpr": "format(datum.value, '.3f')", "tickSize": -10, "labelPadding": 17, "title": "g-factor", "titlePadding": 15}},
            "y": {"datum": 0, "type": "quantitative", "scale": {"domain": [-133.8, 130.2], "nice": false, "zero": false},
                  "axis": {"orient": "right", "values": [-100, -50, 0, 50, 100], "tickSize": -10, "labels": false, "title": null}}
          }
        },
        {
          "data": {"name": "one"},
          "mark": {"type": "point", "opacity": 0},
          "encoding": {
            "x": {"datum": 2.0, "type": "quantitative", "scale": {"domain": [1.99, 2.015], "reverse": true, "nice": false, "zero": false},
                  "axis": {"orient": "top", "values": [2.014, 2.013, 2.012, 2.011, 2.009, 2.008, 2.007, 2.006, 2.004, 2.003, 2.002, 2.001, 1.999, 1.998, 1.997, 1.996, 1.994, 1.993, 1.992, 1.991], "tickSize": -5, "labels": false, "title": null}},
            "y": {"datum": 0, "type": "quantitative", "scale": {"domain": [-133.8, 130.2], "nice": false, "zero": false},
                  "axis": {"orient": "right", "values": [-130,-120,-110,-90,-80,-70,-60,-40,-30,-20,-10,10,20,30,40,60,70,80,90,110,120,130], "tickSize": -5, "labels": false, "title": null}}
          }
        },
        {
          "data": {"name": "one"},
          "mark": {"type": "rect", "fill": "white", "stroke": "black", "strokeWidth": 1.3},
          "encoding": {
            "x": {"datum": 3354.99, "type": "quantitative", "scale": {"domain": [3353.95, 3395.85], "nice": false, "zero": false}, "axis": null},
            "x2": {"datum": 3375.52},
            "y": {"datum": -50.4, "type": "quantitative", "scale": {"domain": [-133.8, 130.2], "nice": false, "zero": false}, "axis": null},
            "y2": {"datum": -85.7}
          }
        },
        {
          "data": {"name": "noteR"},
          "mark": {"type": "text", "align": "left", "baseline": "top", "fontSize": 14.3, "lineHeight": 16.7, "color": "black", "font": "Liberation Sans"},
          "encoding": {
            "x": {"datum": 3355.41, "type": "quantitative", "scale": {"domain": [3353.95, 3395.85], "nice": false, "zero": false}, "axis": null},
            "y": {"datum": -57.1, "type": "quantitative", "scale": {"domain": [-133.8, 130.2], "nice": false, "zero": false}, "axis": null},
            "text": {"field": "t"}
          }
        }
      ]
    }
  ]
}
